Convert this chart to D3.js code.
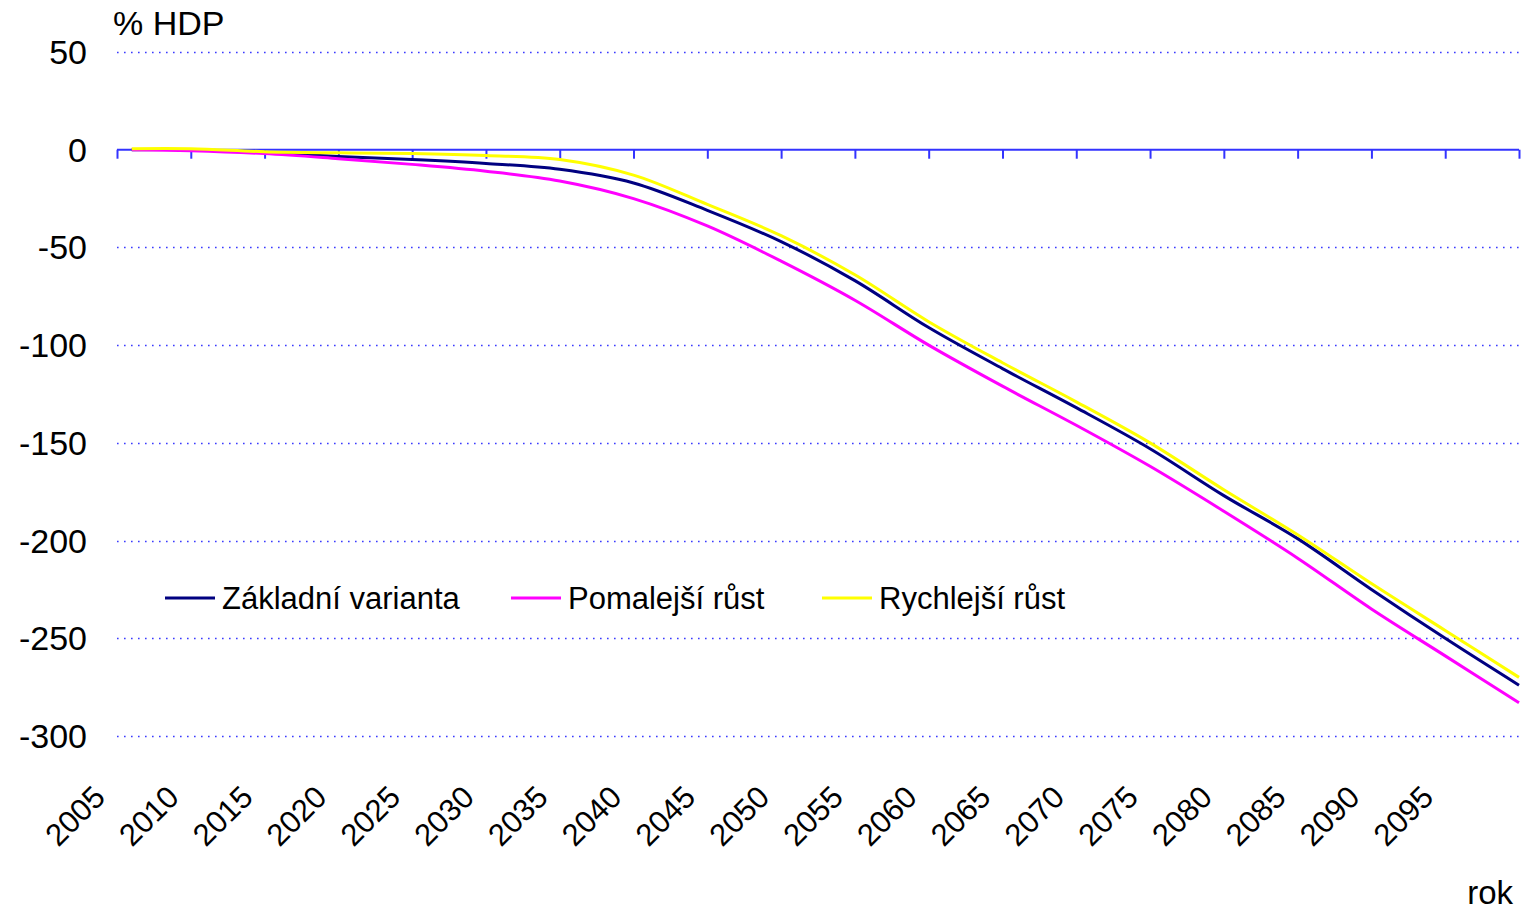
<!DOCTYPE html>
<html>
<head>
<meta charset="utf-8">
<script src="https://cdn.jsdelivr.net/npm/d3@7"></script>
<style>
  body { margin: 0; background: #fff; }
  text { font-family: 'Liberation Sans', Arial, sans-serif; fill: #000; }
</style>
</head>
<body>
<svg id="chart"></svg>
<script>
var width = 1527;
var height = 910;

var years = [2006, 2010, 2015, 2020, 2025, 2030, 2035, 2040, 2045, 2050,
  2055, 2060, 2065, 2070, 2075, 2080, 2085, 2090, 2095, 2100];
var zakladni = [0, 0, -1.5, -3.5, -5, -7, -10, -17, -31, -47,
  -67, -91, -112, -132, -153, -177, -199, -225, -250, -274];
var pomalejsi = [0, -0.5, -2, -4.6, -7.5, -11, -16, -25, -39, -57,
  -77, -100, -121, -141, -162, -185, -209, -235, -259, -283];
var rychlejsi = [0.5, 0.5, -1, -1.6, -2, -3, -5, -13, -28, -44,
  -64, -88, -109, -129, -150, -174, -197, -222, -246, -270];
var yTicks = [50, 0, -50, -100, -150, -200, -250, -300];
var xTicks = d3.range(2005, 2100, 5);

var series = [
  { name: 'Základní varianta', values: zakladni, color: '#000080' },
  { name: 'Pomalejší růst', values: pomalejsi, color: '#ff00ff' },
  { name: 'Rychlejší růst', values: rychlejsi, color: '#ffff00' }
];

var svg = d3.select('#chart')
  .attr('width', width)
  .attr('height', height);

var xScale = d3.scaleLinear()
  .domain([2005, 2100])
  .range([117, 1519]);

var yScale = d3.scaleLinear()
  .domain([-300, 50])
  .range([736, 52]);

// grid lines
svg.append('g')
  .selectAll('line')
  .data(yTicks.filter(d => d !== 0))
  .enter()
  .append('line')
  .attr('x1', xScale(2005))
  .attr('x2', xScale(2100))
  .attr('y1', d => Math.round(yScale(d)) + 0.5)
  .attr('y2', d => Math.round(yScale(d)) + 0.5)
  .attr('stroke', '#3a3aff')
  .attr('stroke-width', 1.6)
  .attr('stroke-dasharray', '1.6,5.4');

// y labels
svg.append('g')
  .selectAll('text')
  .data(yTicks)
  .enter()
  .append('text')
  .attr('x', 87)
  .attr('y', d => yScale(d) + 12)
  .style('text-anchor', 'end')
  .style('font-size', '34px')
  .text(d => d);

// zero axis with ticks
var xAxis = svg.append('g')
  .attr('transform', 'translate(0,' + yScale(0) + ')')
  .call(d3.axisBottom(xScale)
    .tickValues(xTicks.concat([2100]))
    .tickSize(9)
    .tickFormat(''));

xAxis.select('.domain')
  .attr('stroke', '#3333ff')
  .attr('stroke-width', 2)
  .attr('d', 'M' + xScale(2005) + ',0H' + xScale(2100));
xAxis.selectAll('.tick line')
  .attr('stroke', '#3333ff')
  .attr('stroke-width', 2);

// x labels
svg.append('g')
  .selectAll('text')
  .data(xTicks)
  .enter()
  .append('text')
  .attr('transform', d => 'translate(' + (xScale(d) - 10) + ',799) rotate(-45)')
  .style('text-anchor', 'end')
  .style('font-size', '31px')
  .text(d => d);

// lines
var line = d3.line()
  .x((d, i) => xScale(years[i]))
  .y(d => yScale(d))
  .curve(d3.curveCatmullRom);

svg.append('g')
  .selectAll('path')
  .data(series)
  .enter()
  .append('path')
  .attr('d', d => line(d.values))
  .attr('fill', 'none')
  .attr('stroke', d => d.color)
  .attr('stroke-width', 3);

// legend
var legendX = [165, 511, 822];
var legend = svg.append('g')
  .selectAll('g')
  .data(series)
  .enter()
  .append('g')
  .attr('transform', (d, i) => 'translate(' + legendX[i] + ',598)');

legend.append('line')
  .attr('x1', 0)
  .attr('x2', 50)
  .attr('stroke', d => d.color)
  .attr('stroke-width', 3);

legend.append('text')
  .attr('x', 57)
  .attr('y', 11)
  .style('font-size', '31px')
  .text(d => d.name);

// axis titles
svg.append('text')
  .attr('x', 113)
  .attr('y', 35)
  .style('font-size', '34px')
  .text('% HDP');

svg.append('text')
  .attr('x', 1513)
  .attr('y', 904)
  .style('text-anchor', 'end')
  .style('font-size', '33px')
  .text('rok');
</script>
</body>
</html>
